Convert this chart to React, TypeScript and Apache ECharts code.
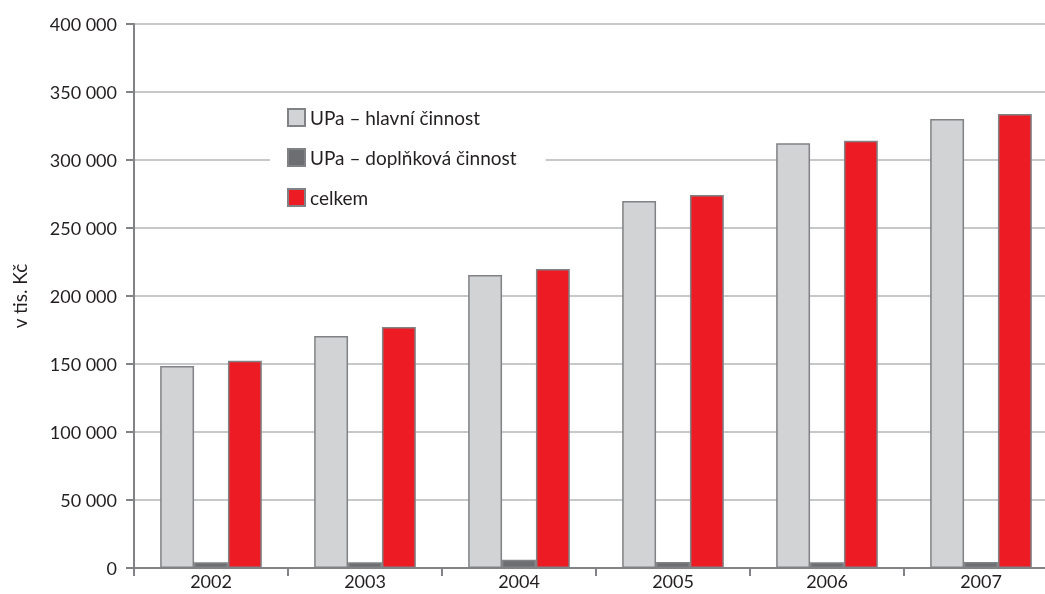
import React, { useEffect, useRef } from "react";
import * as echarts from "echarts";

const categories = ["2002", "2003", "2004", "2005", "2006", "2007"];
const hlavni = [148500, 170600, 215400, 269900, 312300, 330100];
const doplnkova = [4200, 4300, 6000, 4400, 4300, 4500];
const celkem = [152400, 177200, 219900, 274300, 314200, 333900];
const seriesNames = ["UPa – hlavní činnost", "UPa – doplňková činnost", "celkem"];

const FONT = "Lato";
const TEXT = "#231f20";
const FS = 18;

export default function App() {
  const ref = useRef<HTMLDivElement>(null);
  useEffect(() => {
    if (!ref.current) return;
    const chart = echarts.init(ref.current, undefined, { renderer: "svg" });
    const border = { borderColor: "#808285", borderWidth: 1.5 };
    chart.setOption({
      animation: false,
      textStyle: { fontFamily: FONT, color: TEXT },
      grid: {
        left: 134,
        right: 4,
        top: 24,
        bottom: 26,
        show: true,
        borderColor: "#808285",
        borderWidth: 2,
        backgroundColor: "transparent",
      },
      legend: {
        orient: "vertical",
        left: 270,
        top: 99,
        padding: [9, 29, 9, 17],
        backgroundColor: "#ffffff",
        icon: "rect",
        itemWidth: 17,
        itemHeight: 17,
        itemGap: 21,
        textStyle: { fontFamily: FONT, fontSize: 19, color: TEXT },
        data: seriesNames,
      },
      xAxis: {
        type: "category",
        data: categories,
        axisLine: { lineStyle: { color: "#808285", width: 2 } },
        axisTick: { show: true, length: 8, lineStyle: { color: "#808285", width: 2 } },
        axisLabel: { fontFamily: FONT, fontSize: FS, color: TEXT, margin: 4 },
      },
      yAxis: {
        type: "value",
        min: 0,
        max: 400000,
        interval: 50000,
        name: "v tis. Kč",
        nameLocation: "middle",
        nameGap: 105,
        nameRotate: 90,
        nameTextStyle: { fontFamily: FONT, fontSize: 19, color: TEXT },
        axisLine: { show: true, lineStyle: { color: "#808285", width: 2 } },
        axisTick: { show: true, length: 8, lineStyle: { color: "#808285", width: 2 } },
        axisLabel: {
          fontFamily: FONT,
          fontSize: FS,
          color: TEXT,
          margin: 17,
          formatter: (v: number) => String(v).replace(/\B(?=(\d{3})+(?!\d))/g, " "),
        },
        splitLine: { lineStyle: { color: "#c7c8ca", width: 2 } },
      },
      series: [
        {
          name: seriesNames[0],
          type: "bar",
          data: hlavni,
          barGap: "0%",
          barCategoryGap: "34%",
          itemStyle: { color: "#d1d3d4", ...border },
        },
        {
          name: seriesNames[1],
          type: "bar",
          data: doplnkova,
          itemStyle: { color: "#6d6e71", ...border },
        },
        {
          name: seriesNames[2],
          type: "bar",
          data: celkem,
          itemStyle: { color: "#ed1c24", ...border },
        },
      ],
    });
    return () => chart.dispose();
  }, []);
  return (
    <div style={{ position: "fixed", left: 0, top: 0, width: 1045, height: 594, overflow: "hidden" }}>
      <div ref={ref} style={{ width: 1062, height: 594 }} />
    </div>
  );
}
